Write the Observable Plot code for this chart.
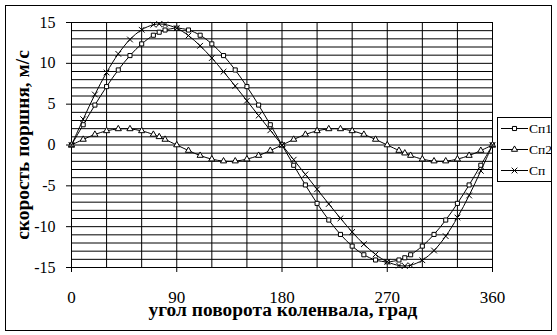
<!DOCTYPE html>
<html>
<head>
<meta charset="utf-8">
<script src="https://cdn.jsdelivr.net/npm/d3@7"></script>
<script src="https://cdn.jsdelivr.net/npm/@observablehq/plot@0.6"></script>
<style>
  body { margin: 0; background: #fff; }
  #wrap { position: relative; width: 557px; height: 335px; overflow: hidden; background: #fff;
          font-family: "Liberation Serif", "Times New Roman", serif; }
  #frame { position: absolute; left: 5px; top: 5px; width: 547px; height: 326px;
           border: 1px solid #000; box-sizing: border-box; pointer-events: none; }
  #chart { position: absolute; left: 0; top: 0; }
  #legend { position: absolute; left: 497px; top: 117px; width: 55px; height: 65px;
            border: 1px solid #000; box-sizing: border-box; background: #fff; }
</style>
</head>
<body>
<div id="wrap">
  <div id="chart"></div>
  <div id="frame"></div>
  <div id="legend"></div>
</div>
<script>
// ---- data ----
const angles = [0,10,20,30,40,50,60,70,75,80,90,100,110,120,130,140,150,160,170,180,190,200,210,220,230,240,250,260,270,280,285,290,300,310,320,330,340,350,360];
const sp1 = [0,2.48,4.89,7.15,9.19,10.95,12.38,13.44,13.81,14.08,14.3,14.08,13.44,12.38,10.95,9.19,7.15,4.89,2.48,0,-2.48,-4.89,-7.15,-9.19,-10.95,-12.38,-13.44,-14.08,-14.3,-14.08,-13.81,-13.44,-12.38,-10.95,-9.19,-7.15,-4.89,-2.48,0];
const sp2 = [0,0.68,1.29,1.73,1.97,1.97,1.73,1.29,1.0,0.68,0,-0.68,-1.29,-1.73,-1.97,-1.97,-1.73,-1.29,-0.68,0,0.68,1.29,1.73,1.97,1.97,1.73,1.29,0.68,0,-0.68,-1.0,-1.29,-1.73,-1.97,-1.97,-1.73,-1.29,-0.68,0];
const sp  = [0,3.16,6.18,8.88,11.16,12.92,14.11,14.73,14.81,14.76,14.3,13.4,12.15,10.65,8.98,7.22,5.42,3.6,1.8,0,-1.8,-3.6,-5.42,-7.22,-8.98,-10.65,-12.15,-13.4,-14.3,-14.76,-14.81,-14.73,-14.11,-12.92,-11.16,-8.88,-6.18,-3.16,0];
const seriesNames = ["Сп1", "Сп2", "Сп"];
const seriesSymbols = ["square", "triangle", "times"];
const xTicks = [0, 90, 180, 270, 360];
const yTicks = [-15, -10, -5, 0, 5, 10, 15];
const xGrid = [0,30,60,90,120,150,180,210,240,270,300,330,360];
const yGrid = d3.range(-15, 16, 1);
const xTitle = "угол поворота коленвала, град";
const yTitle = "скорость поршня, м/с";

const seriesValues = [sp1, sp2, sp];
const rows = seriesValues.map((vals, s) => angles.map((a, i) => ({angle: a, v: vals[i], series: seriesNames[s]})));

const marks = [
  Plot.ruleY(yGrid, {stroke: "#000", strokeWidth: 1}),
  Plot.ruleX(xGrid, {stroke: "#000", strokeWidth: 1}),
  Plot.axisY({ticks: yTicks, tickSize: 5, tickPadding: 11, fontSize: 16, label: null, tickFormat: d => d}),
  Plot.axisX({ticks: xTicks, tickSize: 5, tickPadding: 18, fontSize: 17, label: null, tickFormat: d => d}),
];
rows.forEach((data, s) => {
  marks.push(Plot.line(data, {x: "angle", y: "v", curve: "catmull-rom", stroke: "#000", strokeWidth: 1}));
  marks.push(Plot.dot(data, {x: "angle", y: "v", symbol: () => seriesSymbols[s], r: seriesSymbols[s] === "times" ? 2.7 : 2.3,
    stroke: "#000", strokeWidth: 1, fill: "#fff"}));
});
marks.push(Plot.text([xTitle], {text: d => d, frameAnchor: "bottom", textAnchor: "middle", lineAnchor: "middle",
  dx: 1, dy: 42, fontWeight: "bold", fontSize: 19.4}));
marks.push(Plot.text([yTitle], {text: d => d, frameAnchor: "left", textAnchor: "middle", lineAnchor: "middle",
  rotate: -90, dx: -49, fontWeight: "bold", fontSize: 19.4}));

const chart = Plot.plot({
  width: 557, height: 335,
  marginLeft: 71, marginRight: 65, marginTop: 22, marginBottom: 68,
  x: {domain: [0, 360]},
  y: {domain: [-15, 15]},
  style: {fontFamily: '"Liberation Serif", "Times New Roman", serif', fontSize: "16px", color: "#000", background: "transparent", overflow: "visible"},
  marks
});
document.getElementById("chart").appendChild(chart);

// ---- legend ----
const lg = d3.select("#legend").append("svg").attr("width", 55).attr("height", 65).style("overflow", "visible");
seriesNames.forEach((name, i) => {
  const y = 10.5 + i * 21;
  lg.append("line").attr("x1", 3).attr("x2", 30).attr("y1", y).attr("y2", y).attr("stroke", "#000");
  const type = {square: d3.symbolSquare, triangle: d3.symbolTriangle, times: d3.symbolTimes}[seriesSymbols[i]];
  const r = seriesSymbols[i] === "times" ? 2.7 : 2.3;
  lg.append("path").attr("d", d3.symbol(type, Math.PI * r * r)()).attr("transform", `translate(16.5,${y})`)
    .attr("stroke", "#000").attr("fill", "#fff");
  lg.append("text").attr("x", 31).attr("y", y).attr("dy", "0.35em").attr("font-size", 13.5)
    .attr("font-family", '"Liberation Serif", "Times New Roman", serif').text(name);
});
</script>
</body>
</html>
